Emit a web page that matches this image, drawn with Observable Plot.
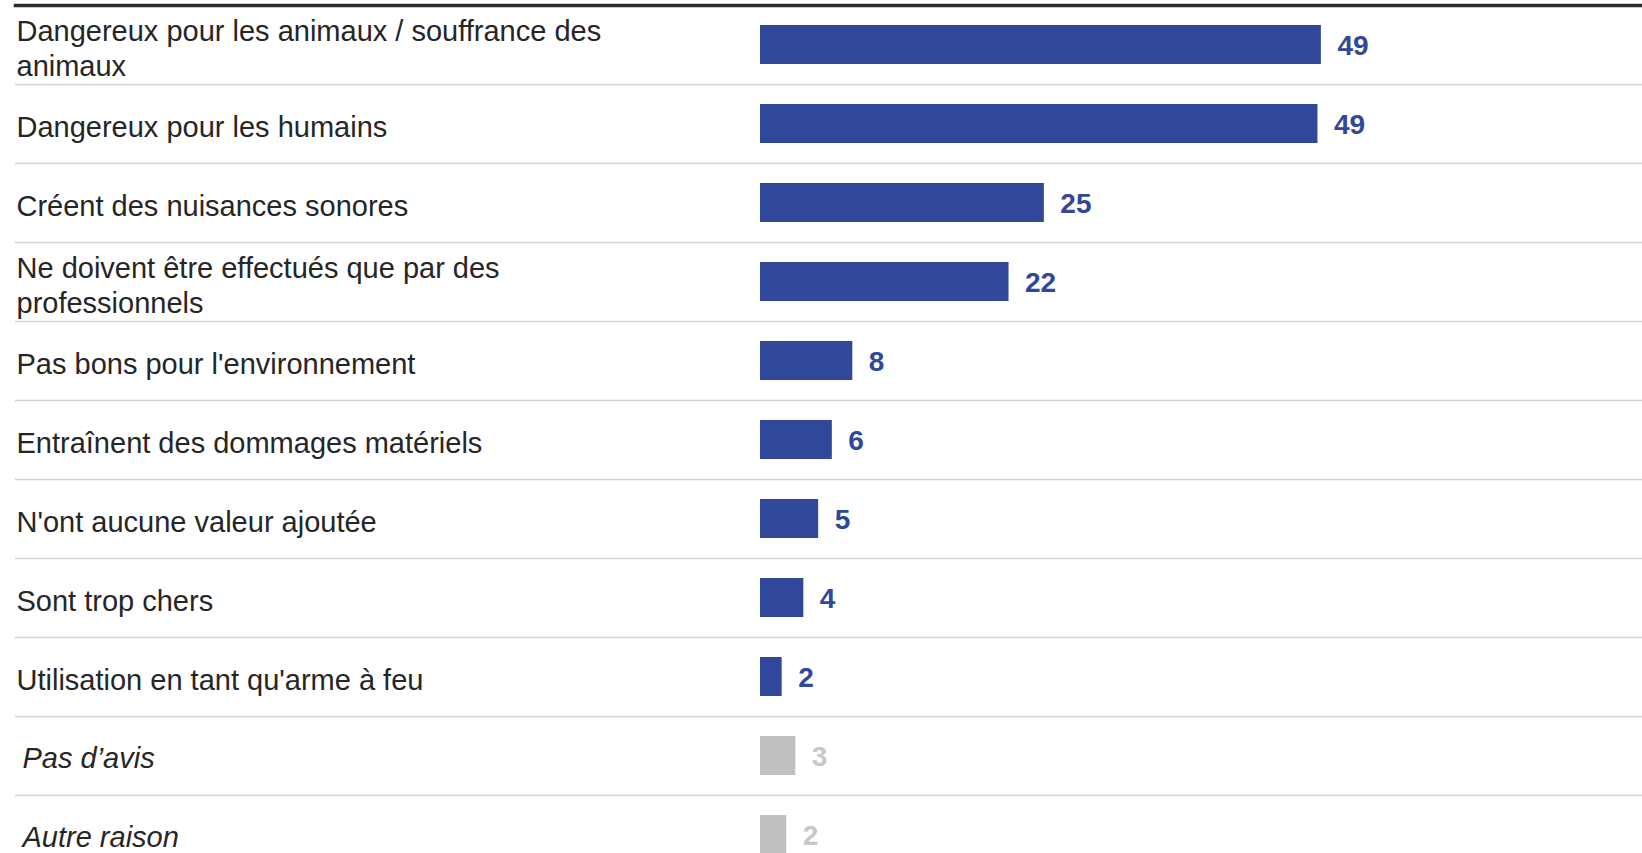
<!DOCTYPE html>
<html>
<head>
<meta charset="utf-8">
<script src="https://cdn.jsdelivr.net/npm/d3@7"></script>
<script src="https://cdn.jsdelivr.net/npm/@observablehq/plot@0.6"></script>
<style>
  html, body { margin: 0; padding: 0; background: #fff; overflow: hidden; }
  svg { display: block; }
</style>
</head>
<body>
<div id="chart"></div>
<script>
const categories = [
  "Dangereux pour les animaux / souffrance des\nanimaux",
  "Dangereux pour les humains",
  "Créent des nuisances sonores",
  "Ne doivent être effectués que par des\nprofessionnels",
  "Pas bons pour l'environnement",
  "Entraînent des dommages matériels",
  "N'ont aucune valeur ajoutée",
  "Sont trop chers",
  "Utilisation en tant qu'arme à feu",
  "Pas d’avis",
  "Autre raison"
];
const values = [49.2, 48.9, 24.9, 21.8, 8.1, 6.3, 5.1, 3.8, 1.9, 3.1, 2.3];
const groups = ["main","main","main","main","main","main","main","main","main","other","other"];

const data = categories.map((label, i) => ({label, value: values[i], group: groups[i]}));
const main = data.filter(d => d.group === "main");
const other = data.filter(d => d.group === "other");

const BLUE = "#30489b";
const GREY = "#c0c0c0";
const FONT = "'Liberation Sans', Arial, Helvetica, sans-serif";

const chart = Plot.plot({
  width: 1642,
  height: 874,
  marginTop: 5,
  marginLeft: 15,
  marginRight: 0,
  marginBottom: 0,
  style: {fontFamily: FONT, background: "#fff"},
  x: {domain: [0, 50], range: [760, 1330], axis: null},
  y: {domain: categories, axis: null, padding: 0},
  marks: [
    Plot.ruleY(categories, {y: d => d, dy: 39.5, stroke: "#d2d2d2", strokeWidth: 1.6}),
    Plot.frame({anchor: "top", stroke: "#2b2b2b", strokeWidth: 3.5}),
    Plot.barX(main, {x: "value", y: "label", fill: BLUE, insetTop: 20, insetBottom: 20}),
    Plot.barX(other, {x: "value", y: "label", fill: GREY, insetTop: 20, insetBottom: 20}),
    Plot.text(main, {x: "value", y: "label", text: d => String(Math.round(d.value)), dx: 16, dy: 1, textAnchor: "start",
      fill: BLUE, fontWeight: "bold", fontSize: 28}),
    Plot.text(other, {x: "value", y: "label", text: d => String(Math.round(d.value)), dx: 16, dy: 1, textAnchor: "start",
      fill: "#c8c8c8", fontWeight: "bold", fontSize: 28}),
    Plot.text(main, {y: "label", text: "label", frameAnchor: "left", textAnchor: "start", dx: 1, dy: 2,
      fill: "#262626", fontSize: 29, lineHeight: 1.2}),
    Plot.text(other, {y: "label", text: "label", frameAnchor: "left", textAnchor: "start", dx: 7, dy: 3,
      fill: "#262626", fontSize: 29, fontStyle: "italic"})
  ]
});
document.getElementById("chart").appendChild(chart);
</script>
</body>
</html>
